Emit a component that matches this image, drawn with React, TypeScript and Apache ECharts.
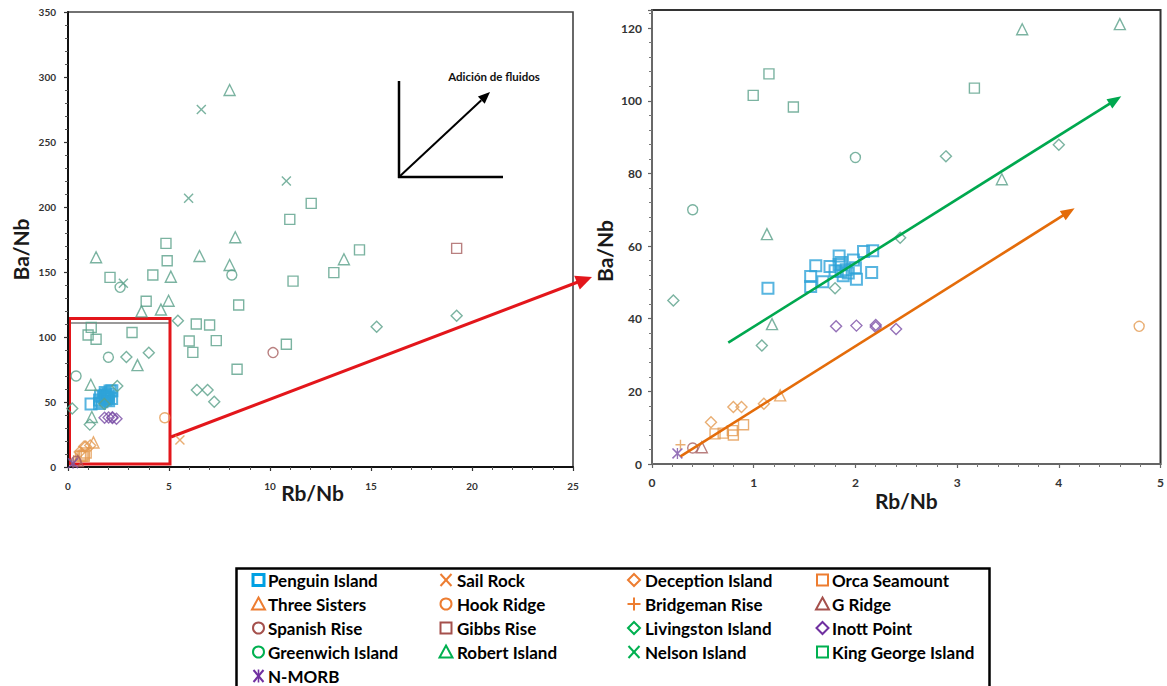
import React, { useEffect, useRef } from 'react';
import * as echarts from 'echarts';

// Rb/Nb (x) and Ba/Nb (y) per locality
const penguinIsland = [
  [1.14, 48.4], [1.56, 51.6], [1.61, 54.6], [1.68, 50.2], [1.56, 48.9], [1.75, 54.4],
  [1.84, 57.3], [1.84, 54.9], [1.86, 53.0], [1.91, 53.5], [1.98, 56.2], [2.0, 54.0],
  [2.01, 50.9], [2.08, 58.5], [2.17, 58.7], [2.16, 52.7], [1.86, 55.5], [1.93, 52.6],
  [1.8, 53.2], [1.88, 51.8],
];
const sailRock = [[5.54, 20.8]];
const deceptionIsland = [[0.58, 11.5], [0.8, 15.7], [0.88, 15.7], [1.1, 16.6]];
const orcaSeamount = [[0.62, 8.3], [0.7, 8.5], [0.79, 9.2], [0.8, 8.0], [0.9, 10.8]];
const threeSisters = [[1.26, 18.9]];
const hookRidge = [[4.79, 37.9]];
const bridgemanRise = [[0.28, 5.3]];
const gRidge = [[0.49, 4.6]];
const spanishRise = [[0.4, 4.4], [10.15, 88.0]];
const gibbsRise = [[19.24, 168.2]];
const livingstonIsland = [
  [0.21, 45.0], [1.08, 32.6], [1.8, 48.4], [2.44, 62.3], [2.89, 84.7], [4.0, 87.9],
  [5.44, 112.5], [6.38, 59.2], [6.91, 59.2], [7.24, 50.2], [15.28, 107.9], [19.24, 116.4],
];
const inottPoint = [[1.81, 37.9], [2.01, 38.1], [2.2, 38.3], [2.2, 37.7], [2.4, 37.2]];
const greenwichIsland = [[0.4, 70.0], [2.0, 84.4], [2.58, 138.2], [8.11, 147.7]];
const robertIsland = [
  [1.13, 63.3], [1.18, 38.5], [3.44, 78.4], [3.64, 119.7], [4.6, 121.1], [4.98, 127.9],
  [5.09, 146.4], [1.39, 161.3], [6.51, 162.3], [8.0, 155.4], [8.28, 176.7], [8.0, 290.0],
  [13.66, 159.8],
];
const nelsonIsland = [[6.6, 275], [5.97, 206.7], [10.81, 220], [2.74, 141.3]];
const kingGeorgeIsland = [
  [0.995, 101.5], [1.15, 107.4], [1.39, 98.3], [3.17, 103.5], [3.87, 127.5], [2.08, 145.9],
  [4.2, 147.7], [4.85, 172], [4.91, 158.7], [8.45, 124.6], [6.35, 110], [7.01, 109.2],
  [6.0, 96.9], [6.18, 88.2], [7.34, 97.2], [8.37, 75.2], [10.81, 94.4], [10.98, 190.5],
  [12.04, 202.8], [11.14, 143], [13.16, 149.5], [14.43, 167],
];
const nMorb = [[0.25, 2.9]];

// Trend arrows in the enlarged panel (start, end) in Rb/Nb, Ba/Nb
const greenTrend = [[0.75, 33.4], [4.556, 100.2]];
const orangeTrend = [[0.28, 2.1], [4.097, 69.4]];

type Shape = 'square' | 'triangle' | 'circle' | 'diamond' | 'cross' | 'plus' | 'asterisk';

const ORANGE = '#e39a50';
const BROWN = '#a86060';
const GREEN = '#5aa08a';
const PURPLE = '#7a4fa6';
const BLUE = '#2ea3d8';

const K_ORANGE = '#ed7d31';
const K_BROWN = '#a5504c';
const K_GREEN = '#00b050';
const K_PURPLE = '#7030a0';
const K_BLUE = '#00a0e3';

interface Group {
  name: string;
  shape: Shape;
  color: string;
  key: string;
  data: number[][];
  size?: number;
  stroke?: number;
}

const groups: Group[] = [
  { name: 'Penguin Island', shape: 'square', color: BLUE, key: K_BLUE, data: penguinIsland, size: 11, stroke: 2 },
  { name: 'Sail Rock', shape: 'cross', color: ORANGE, key: K_ORANGE, data: sailRock },
  { name: 'Deception Island', shape: 'diamond', color: ORANGE, key: K_ORANGE, data: deceptionIsland },
  { name: 'Orca Seamount', shape: 'square', color: ORANGE, key: K_ORANGE, data: orcaSeamount },
  { name: 'Three Sisters', shape: 'triangle', color: ORANGE, key: K_ORANGE, data: threeSisters },
  { name: 'Hook Ridge', shape: 'circle', color: ORANGE, key: K_ORANGE, data: hookRidge },
  { name: 'Bridgeman Rise', shape: 'plus', color: ORANGE, key: K_ORANGE, data: bridgemanRise },
  { name: 'G Ridge', shape: 'triangle', color: BROWN, key: K_BROWN, data: gRidge },
  { name: 'Spanish Rise', shape: 'circle', color: BROWN, key: K_BROWN, data: spanishRise },
  { name: 'Gibbs Rise', shape: 'square', color: BROWN, key: K_BROWN, data: gibbsRise },
  { name: 'Livingston Island', shape: 'diamond', color: GREEN, key: K_GREEN, data: livingstonIsland },
  { name: 'Inott Point', shape: 'diamond', color: PURPLE, key: K_PURPLE, data: inottPoint },
  { name: 'Greenwich Island', shape: 'circle', color: GREEN, key: K_GREEN, data: greenwichIsland },
  { name: 'Robert Island', shape: 'triangle', color: GREEN, key: K_GREEN, data: robertIsland },
  { name: 'Nelson Island', shape: 'cross', color: GREEN, key: K_GREEN, data: nelsonIsland },
  { name: 'King George Island', shape: 'square', color: GREEN, key: K_GREEN, data: kingGeorgeIsland },
  { name: 'N-MORB', shape: 'asterisk', color: PURPLE, key: K_PURPLE, data: nMorb },
];

const CROSS = 'M1,0 L5,4 L9,0 L10,1 L6,5 L10,9 L9,10 L5,6 L1,10 L0,9 L4,5 L0,1 Z';
const PLUS = 'M4.3,0 H5.7 V4.3 H10 V5.7 H5.7 V10 H4.3 V5.7 H0 V4.3 H4.3 Z';

const symbolOf: Record<Shape, string> = {
  square: 'rect',
  triangle: 'triangle',
  circle: 'circle',
  diamond: 'diamond',
  cross: 'path://' + CROSS,
  plus: 'path://' + PLUS,
  asterisk: 'path://' + CROSS + ' M4.4,0 H5.6 V10 H4.4 Z',
};
const sizeOf: Record<Shape, number> = {
  square: 10, triangle: 11, circle: 10, diamond: 11, cross: 10, plus: 10, asterisk: 11,
};

const FONT = 'Lato, "Noto Sans", sans-serif';

function scatterFor(g: Group, idx: number) {
  const solid = g.shape === 'cross' || g.shape === 'plus' || g.shape === 'asterisk';
  return {
    type: 'scatter',
    name: g.name,
    xAxisIndex: idx,
    yAxisIndex: idx,
    data: g.data,
    symbol: symbolOf[g.shape],
    symbolSize: g.size ?? sizeOf[g.shape],
    clip: true,
    silent: true,
    itemStyle: solid
      ? { color: g.color }
      : { color: 'rgba(0,0,0,0)', borderColor: g.color, borderWidth: g.stroke ?? 1.4 },
  };
}

function trendSeries(points: number[][], color: string) {
  return {
    type: 'line',
    xAxisIndex: 1,
    yAxisIndex: 1,
    data: [],
    silent: true,
    markLine: {
      silent: true,
      symbol: ['none', 'triangle'],
      symbolSize: [11, 14],
      label: { show: false },
      lineStyle: { color, width: 2.6, type: 'solid' },
      itemStyle: { color },
      emphasis: { disabled: true },
      data: [[{ coord: points[0] }, { coord: points[1] }]],
    },
  };
}

// Legend drawn as a 4-column table
const legendIconX = [258.5, 446, 634, 822.5];
const legendTextX = [268, 457, 645, 832];
const legendRowY = 580;
const legendRowGap = 24;

function legendIcon(g: Group, cx: number, cy: number): any[] {
  const c = g.key;
  const lw = g.name === 'Penguin Island' ? 3 : 2;
  const st = { fill: 'none', stroke: c, lineWidth: lw };
  switch (g.shape) {
    case 'square':
      return [{ type: 'rect', shape: { x: cx - 5.5, y: cy - 5.5, width: 11, height: 11 }, style: st }];
    case 'circle':
      return [{ type: 'circle', shape: { cx, cy, r: 5.5 }, style: st }];
    case 'triangle':
      return [{ type: 'polygon', shape: { points: [[cx, cy - 6.5], [cx + 6.5, cy + 5.5], [cx - 6.5, cy + 5.5]] }, style: st }];
    case 'diamond':
      return [{ type: 'polygon', shape: { points: [[cx, cy - 6], [cx + 6, cy], [cx, cy + 6], [cx - 6, cy]] }, style: st }];
    case 'cross':
      return [
        { type: 'line', shape: { x1: cx - 5.5, y1: cy - 6, x2: cx + 5.5, y2: cy + 6 }, style: { stroke: c, lineWidth: 2 } },
        { type: 'line', shape: { x1: cx + 5.5, y1: cy - 6, x2: cx - 5.5, y2: cy + 6 }, style: { stroke: c, lineWidth: 2 } },
      ];
    case 'plus':
      return [
        { type: 'line', shape: { x1: cx, y1: cy - 6.5, x2: cx, y2: cy + 6.5 }, style: { stroke: c, lineWidth: 2 } },
        { type: 'line', shape: { x1: cx - 6.5, y1: cy, x2: cx + 6.5, y2: cy }, style: { stroke: c, lineWidth: 2 } },
      ];
    default:
      return [
        { type: 'line', shape: { x1: cx - 5, y1: cy - 6, x2: cx + 5, y2: cy + 6 }, style: { stroke: c, lineWidth: 2 } },
        { type: 'line', shape: { x1: cx + 5, y1: cy - 6, x2: cx - 5, y2: cy + 6 }, style: { stroke: c, lineWidth: 2 } },
        { type: 'line', shape: { x1: cx, y1: cy - 6.5, x2: cx, y2: cy + 6.5 }, style: { stroke: c, lineWidth: 1.6 } },
      ];
  }
}

function legendGraphics(): any[] {
  const out: any[] = [
    {
      type: 'rect',
      shape: { x: 236.5, y: 568.5, width: 753, height: 140 },
      style: { fill: '#fff', stroke: '#000', lineWidth: 2.5 },
    },
  ];
  groups.forEach((g, i) => {
    const col = i % 4;
    const row = Math.floor(i / 4);
    const cy = legendRowY + row * legendRowGap;
    out.push(...legendIcon(g, legendIconX[col], cy));
    out.push({
      type: 'text',
      x: legendTextX[col],
      y: cy,
      style: {
        text: g.name,
        fill: '#000',
        fontSize: 17,
        fontWeight: 'bold',
        fontFamily: FONT,
        verticalAlign: 'middle',
        align: 'left',
      },
    });
  });
  return out;
}

function annotationGraphics(): any[] {
  return [
    // fluid-addition sketch in the full-range panel
    { type: 'line', shape: { x1: 399, y1: 81, x2: 399, y2: 178 }, style: { stroke: '#000', lineWidth: 2.5 } },
    { type: 'line', shape: { x1: 398, y1: 177, x2: 503, y2: 177 }, style: { stroke: '#000', lineWidth: 2.5 } },
    { type: 'line', shape: { x1: 399, y1: 177, x2: 481.3, y2: 100.2 }, style: { stroke: '#000', lineWidth: 2 } },
    { type: 'polygon', shape: { points: [[490, 92], [484.7, 103.8], [477.9, 96.6]] }, style: { fill: '#000' } },
    {
      type: 'text',
      x: 494,
      y: 76,
      style: {
        text: 'Adición de fluidos',
        fill: '#111',
        fontSize: 11.5,
        fontWeight: 'bold',
        fontFamily: FONT,
        align: 'center',
        verticalAlign: 'middle',
      },
    },
    // enlarged region outline
    { type: 'line', shape: { x1: 69, y1: 323, x2: 170, y2: 323 }, style: { stroke: '#9a9a9a', lineWidth: 2 } },
    {
      type: 'rect',
      shape: { x: 69.5, y: 318.5, width: 100.5, height: 145.5 },
      style: { fill: 'none', stroke: '#e3161b', lineWidth: 3 },
    },
    { type: 'line', shape: { x1: 171, y1: 437, x2: 578, y2: 282 }, style: { stroke: '#e3161b', lineWidth: 3 } },
    { type: 'polygon', shape: { points: [[592, 277], [579.8, 289.6], [574.2, 275.8]] }, style: { fill: '#e3161b' } },
  ];
}

function valueAxis(idx: number, min: number, max: number, interval: number, big: boolean, name: string, isX: boolean) {
  const leftPanel = idx === 0;
  // name padding nudges the title along the axis
  const namePadding = isX ? (leftPanel ? [0, 16, 0, 0] : [0, 0, 0, 0]) : [0, leftPanel ? 20 : 28, 0, 0];
  return {
    gridIndex: idx,
    type: 'value',
    min,
    max,
    interval,
    name,
    nameLocation: 'middle',
    nameMoveOverlap: false,
    nameGap: isX ? (leftPanel ? 15 : 26) : 37,
    nameTextStyle: { fontSize: 21, fontWeight: 'bold', color: '#1a1a1a', fontFamily: FONT, padding: namePadding },
    axisLine: {
      show: true,
      onZero: false,
      lineStyle: { color: leftPanel ? '#111' : '#777', width: leftPanel ? 2 : 1.6 },
    },
    axisTick: { show: true, length: 4, lineStyle: { color: leftPanel ? '#333' : '#666', width: 1.2 } },
    minorTick: { show: true, splitNumber: 5, length: 3, lineStyle: { color: leftPanel ? '#555' : '#777' } },
    splitLine: { show: false },
    axisLabel: {
      fontSize: big ? 12 : 10,
      fontWeight: 'bold',
      color: '#333',
      fontFamily: FONT,
      margin: isX ? (big ? 12 : 14) : big ? 10 : 12,
      showMaxLabel: isX ? true : leftPanel,
    },
  };
}

export default function App() {
  const ref = useRef<HTMLDivElement>(null);

  useEffect(() => {
    if (!ref.current) return;
    const chart = echarts.init(ref.current, undefined, { renderer: 'svg' });
    const series: any[] = [];
    groups.forEach((g) => series.push(scatterFor(g, 0)));
    groups.forEach((g) => series.push(scatterFor(g, 1)));
    series.push(trendSeries(greenTrend, '#00a84f'));
    series.push(trendSeries(orangeTrend, '#e46c0a'));

    chart.setOption({
      animation: false,
      backgroundColor: '#fff',
      textStyle: { fontFamily: FONT },
      grid: [
        { left: 68, top: 12, width: 505, height: 455, show: true, borderColor: '#444', borderWidth: 1.6, backgroundColor: 'transparent' },
        { left: 652, top: 10, width: 509, height: 454, show: true, borderColor: '#333', borderWidth: 2, backgroundColor: 'transparent' },
      ],
      xAxis: [
        valueAxis(0, 0, 25, 5, false, 'Rb/Nb', true),
        valueAxis(1, 0, 5, 1, true, 'Rb/Nb', true),
      ],
      yAxis: [
        valueAxis(0, 0, 350, 50, false, 'Ba/Nb', false),
        valueAxis(1, 0, 125, 20, true, 'Ba/Nb', false),
      ],
      series,
      graphic: [...annotationGraphics(), ...legendGraphics()],
    });
    return () => chart.dispose();
  }, []);

  return (
    <div
      ref={ref}
      style={{ position: 'fixed', left: 0, top: 0, width: 1167, height: 686, background: '#fff' }}
    />
  );
}
